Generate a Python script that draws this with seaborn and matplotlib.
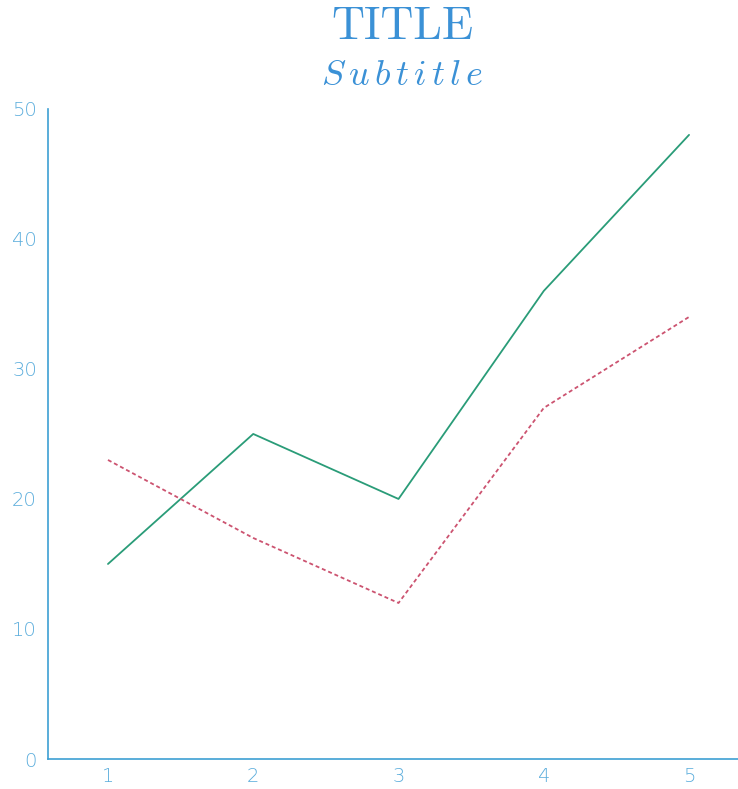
import matplotlib
matplotlib.use("Agg")
import matplotlib.pyplot as plt
import seaborn as sns
import pandas as pd

x_vals = [1, 2, 3, 4, 5]
series_a = [15, 25, 20, 36, 48]
series_b = [23, 17, 12, 27, 34]
x_ticks = [1, 2, 3, 4, 5]
y_ticks = [0, 10, 20, 30, 40, 50]

df = pd.DataFrame({
    "x": x_vals * 2,
    "y": series_a + series_b,
    "series": ["A"] * len(x_vals) + ["B"] * len(x_vals),
})

sns.set_theme(style="white")
plt.rcParams["mathtext.fontset"] = "cm"

axis_col = "#3d9fd3"
label_col = "#3f9fd6"
title_col = "#2585d2"

fig = plt.figure(figsize=(7.38, 7.89), dpi=100)
ax = fig.add_axes([0.065, 0.038, 0.935, 0.824])

sns.lineplot(data=df, x="x", y="y", hue="series", style="series",
             palette={"A": "#2a9c78", "B": "#cc5370"},
             dashes={"A": "", "B": (2.2, 1.6)},
             linewidth=1.3, legend=False, ax=ax)

ax.set_xlim(0.587, 5.337)
ax.set_ylim(0, 50)
ax.set_xticks(x_ticks)
ax.set_yticks(y_ticks)
ax.set_xticklabels([str(t) for t in x_ticks])
ax.set_yticklabels([str(t) for t in y_ticks])
ax.set_xlabel("")
ax.set_ylabel("")

for s in ["top", "right"]:
    ax.spines[s].set_visible(False)
for s in ["left", "bottom"]:
    ax.spines[s].set_color(axis_col)
    ax.spines[s].set_linewidth(1.2)

ax.tick_params(axis="both", length=0, labelsize=14)
ax.tick_params(axis="y", pad=8)
ax.tick_params(axis="x", pad=6)
for lab in ax.get_xticklabels() + ax.get_yticklabels():
    lab.set_fontweight("light")
    lab.set_color(label_col)
    lab.set_alpha(0.85)

fig.text(0.545, 0.965, "TITLE", ha="center", va="center",
         fontsize=33, color=title_col, family="cmr10", alpha=0.9)
fig.text(0.545, 0.905, r"$\mathit{S\,u\,b\,t\,i\,t\,l\,e}$", ha="center", va="center",
         fontsize=26, color=title_col, alpha=0.9)

fig.savefig("out.png", dpi=100)
